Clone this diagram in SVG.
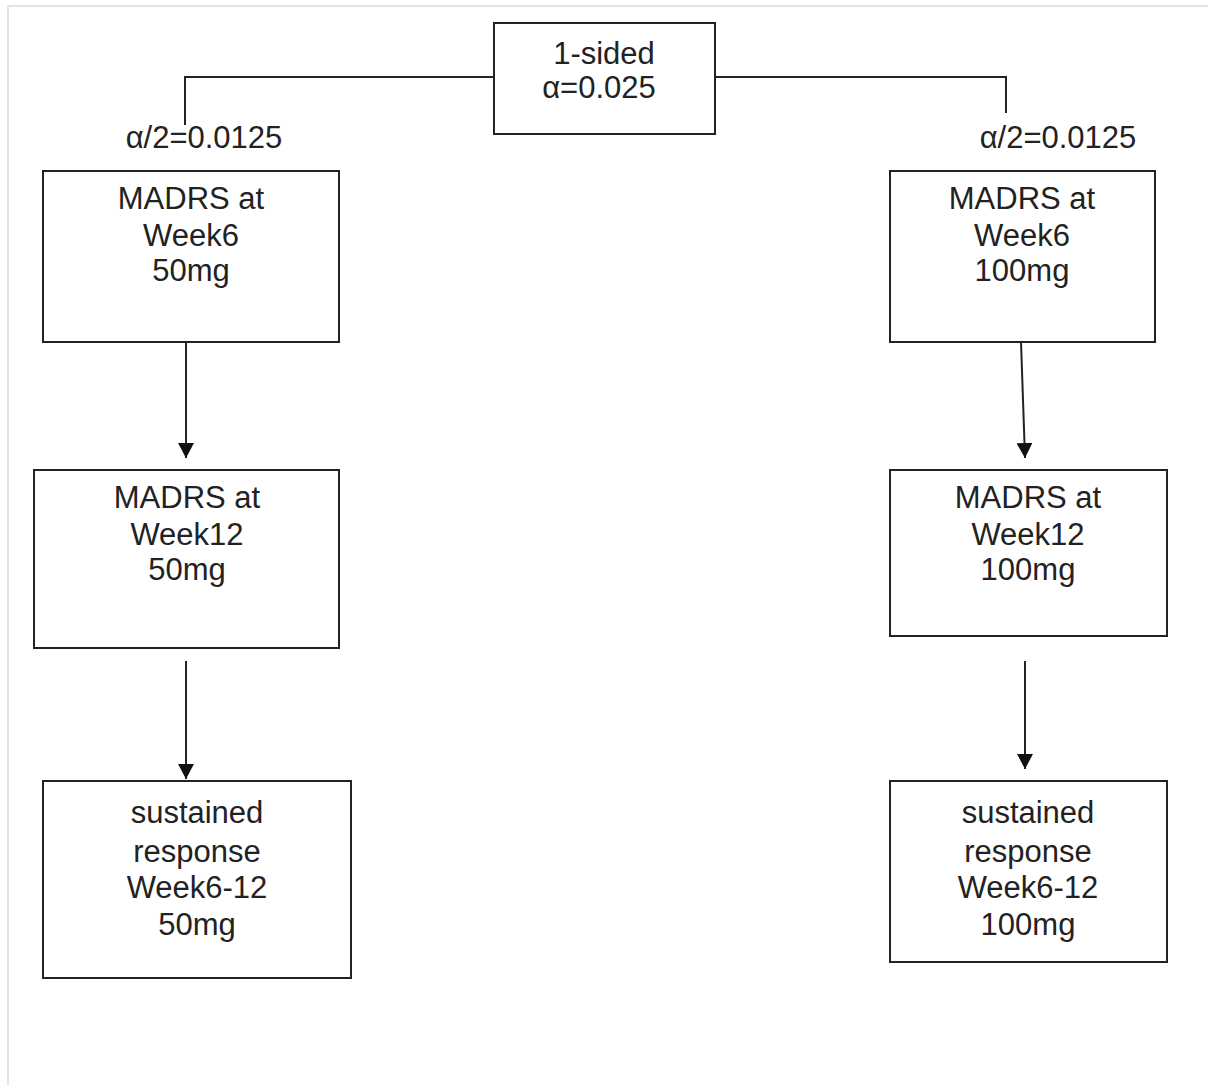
<svg xmlns="http://www.w3.org/2000/svg" width="1208" height="1085" viewBox="0 0 1208 1085">
  <style>
    .box { fill: #ffffff; stroke: #222222; stroke-width: 2; }
    .lbl { font-family: "Liberation Sans", Arial, sans-serif; font-size: 31px; fill: #222222; text-anchor: middle; }
    .wire { fill: none; stroke: #222222; stroke-width: 2; }
    .frame { fill: none; stroke: #e2e2e2; stroke-width: 2; }
  </style>
  <defs>
    <marker id="arrow" viewBox="0 0 10 10" refX="10" refY="5" markerWidth="15" markerHeight="16" markerUnits="userSpaceOnUse" orient="auto" preserveAspectRatio="none">
      <path d="M0,0 L10,5 L0,10 Z" fill="#111111"/>
    </marker>
  </defs>

  <rect width="1208" height="1085" fill="#ffffff"/>
  <!-- page frame -->
  <path class="frame" d="M8,1085 L8,6 L1208,6"/>

  <!-- connectors -->
  <g id="connectors">
    <path class="wire" d="M494,77 L185,77 L185,125"/>
    <path class="wire" d="M715,77 L1006,77 L1006,113"/>
    <line class="wire" x1="186" y1="342" x2="186" y2="458" marker-end="url(#arrow)"/>
    <line class="wire" x1="186" y1="661" x2="186" y2="779" marker-end="url(#arrow)"/>
    <line class="wire" x1="1021" y1="342" x2="1025" y2="458" marker-end="url(#arrow)"/>
    <line class="wire" x1="1025" y1="661" x2="1025" y2="769" marker-end="url(#arrow)"/>
  </g>

  <g id="root">
    <rect class="box" x="494" y="23" width="221" height="111"/>
    <text class="lbl" x="604" y="64">1-sided</text>
    <text class="lbl" x="599" y="98">α=0.025</text>
  </g>

  <g id="split-left">
    <text class="lbl" x="204" y="148">α/2=0.0125</text>
  </g>
  <g id="split-right">
    <text class="lbl" x="1058" y="148">α/2=0.0125</text>
  </g>

  <g id="madrs-w6-50">
    <rect class="box" x="43" y="171" width="296" height="171"/>
    <text class="lbl" x="191" y="209">MADRS at</text>
    <text class="lbl" x="191" y="246">Week6</text>
    <text class="lbl" x="191" y="281">50mg</text>
  </g>

  <g id="madrs-w12-50">
    <rect class="box" x="34" y="470" width="305" height="178"/>
    <text class="lbl" x="187" y="508">MADRS at</text>
    <text class="lbl" x="187" y="545">Week12</text>
    <text class="lbl" x="187" y="580">50mg</text>
  </g>

  <g id="sustained-50">
    <rect class="box" x="43" y="781" width="308" height="197"/>
    <text class="lbl" x="197" y="823">sustained</text>
    <text class="lbl" x="197" y="862">response</text>
    <text class="lbl" x="197" y="898">Week6-12</text>
    <text class="lbl" x="197" y="935">50mg</text>
  </g>

  <g id="madrs-w6-100">
    <rect class="box" x="890" y="171" width="265" height="171"/>
    <text class="lbl" x="1022" y="209">MADRS at</text>
    <text class="lbl" x="1022" y="246">Week6</text>
    <text class="lbl" x="1022" y="281">100mg</text>
  </g>

  <g id="madrs-w12-100">
    <rect class="box" x="890" y="470" width="277" height="166"/>
    <text class="lbl" x="1028" y="508">MADRS at</text>
    <text class="lbl" x="1028" y="545">Week12</text>
    <text class="lbl" x="1028" y="580">100mg</text>
  </g>

  <g id="sustained-100">
    <rect class="box" x="890" y="781" width="277" height="181"/>
    <text class="lbl" x="1028" y="823">sustained</text>
    <text class="lbl" x="1028" y="862">response</text>
    <text class="lbl" x="1028" y="898">Week6-12</text>
    <text class="lbl" x="1028" y="935">100mg</text>
  </g>
</svg>
